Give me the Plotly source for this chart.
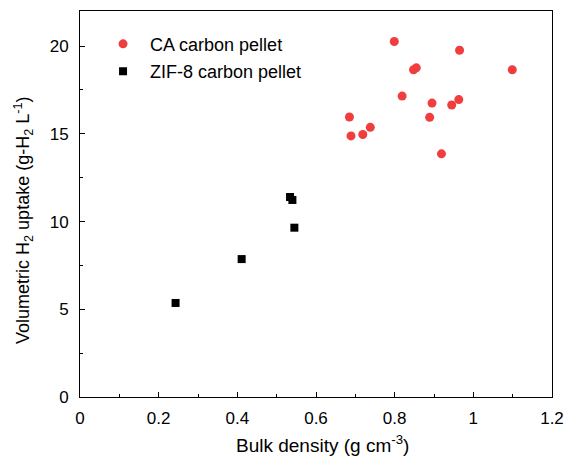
import plotly.graph_objects as go

ca_density = [0.799, 0.965, 0.855, 0.848, 1.099, 0.819, 0.895, 0.963, 0.945, 0.889, 0.919, 0.685, 0.689, 0.719, 0.738]
ca_uptake = [20.26, 19.76, 18.76, 18.65, 18.65, 17.15, 16.75, 16.95, 16.64, 15.94, 13.86, 15.96, 14.88, 14.96, 15.37]

zif_density = [0.534, 0.540, 0.545, 0.411, 0.243]
zif_uptake = [11.40, 11.23, 9.65, 7.86, 5.36]

x_title = "Bulk density (g cm<sup>-3</sup>)"
y_title = "Volumetric H<sub>2</sub> uptake (g-H<sub>2</sub> L<sup>-1</sup>)"

FONT = "Liberation Sans, Arial, sans-serif"

fig = go.Figure()
fig.add_trace(go.Scatter(
    x=ca_density, y=ca_uptake, mode="markers", name="CA carbon pellet", legendgroup="a",
    marker=dict(symbol="circle", size=9, color="rgb(240,62,62)", line=dict(width=0)),
))
fig.add_trace(go.Scatter(
    x=zif_density, y=zif_uptake, mode="markers", name="ZIF-8 carbon pellet", legendgroup="b",
    marker=dict(symbol="square", size=8, color="black", line=dict(width=0)),
))

axis_common = dict(
    showgrid=False, zeroline=False, showline=True, linecolor="black", linewidth=1,
    mirror=True, ticks="inside", ticklen=5, tickwidth=1, tickcolor="black",
    tickfont=dict(family=FONT, size=17, color="black"),
)

fig.update_layout(
    width=574, height=460,
    margin=dict(l=80, r=15, t=10, b=63),
    paper_bgcolor="white", plot_bgcolor="white",
    font=dict(family=FONT, color="black"),
    showlegend=True,
    legend=dict(x=0.034, y=0.962, xanchor="left", yanchor="top",
                font=dict(family=FONT, size=18, color="black"),
                bgcolor="rgba(0,0,0,0)", traceorder="grouped", tracegroupgap=1,
                itemsizing="trace", itemwidth=44),
    xaxis=dict(range=[0, 1.2], tickvals=[0, 0.2, 0.4, 0.6, 0.8, 1, 1.2],
               ticktext=["0", "0.2", "0.4", "0.6", "0.8", "1", "1.2"],
               ticklabelstandoff=6,
               minor=dict(ticks="inside", dtick=0.1, ticklen=3, tickcolor="black"),
               **axis_common),
    yaxis=dict(range=[0, 22], tickvals=[0, 5, 10, 15, 20],
               ticklabelstandoff=7,
               minor=dict(ticks="inside", dtick=2.5, ticklen=3, tickcolor="black"),
               **axis_common),
    annotations=[
        dict(text=x_title, xref="paper", yref="paper", x=0.514, y=-0.122,
             xanchor="center", yanchor="middle", showarrow=False,
             font=dict(family=FONT, size=19, color="black")),
        dict(text=y_title, xref="paper", yref="paper", x=-0.12, y=0.457,
             xanchor="center", yanchor="middle", textangle=-90, showarrow=False,
             font=dict(family=FONT, size=18, color="black")),
    ],
)

fig.write_html("out.html")
